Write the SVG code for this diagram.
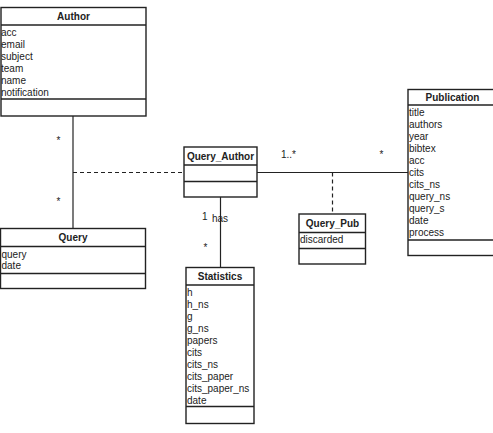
<svg xmlns="http://www.w3.org/2000/svg" width="493" height="433" viewBox="0 0 493 433">
<style>
.box{fill:#fff;stroke:#222;stroke-width:1.4}
.sep{stroke:#222;stroke-width:1.4}
.title{font-family:"Liberation Sans",Arial,sans-serif;font-size:10px;font-weight:bold;fill:#222;text-anchor:middle}
.attr{font-family:"Liberation Sans",Arial,sans-serif;font-size:10px;fill:#222}
.lbl{font-family:"Liberation Sans",Arial,sans-serif;font-size:10px;fill:#222}
.solid{stroke:#222;stroke-width:1.2;fill:none}
.dash{stroke:#222;stroke-width:1.2;fill:none;stroke-dasharray:4,3}
</style>
<rect width="493" height="433" fill="#fff"/>
<g id="connectors">
<line class="solid" x1="73" y1="116" x2="73" y2="228"/>
<line class="dash" x1="73" y1="172.5" x2="184" y2="172.5"/>
<line class="solid" x1="257" y1="172.5" x2="408" y2="172.5"/>
<line class="dash" x1="332.5" y1="172.5" x2="332.5" y2="214"/>
<line class="solid" x1="220.5" y1="197" x2="220.5" y2="267"/>
<text class="lbl" x="56.5" y="144">*</text>
<text class="lbl" x="56.5" y="205">*</text>
<text class="lbl" x="281" y="158">1..*</text>
<text class="lbl" x="379.5" y="158">*</text>
<text class="lbl" x="202" y="220">1</text>
<text class="lbl" x="212" y="222">has</text>
<text class="lbl" x="203.5" y="251">*</text>
</g>
<g id="Author">
<rect class="box" x="1" y="7.5" width="145" height="108.5"/>
<line class="sep" x1="1" y1="25" x2="146" y2="25"/>
<line class="sep" x1="1" y1="99" x2="146" y2="99"/>
<text class="title" x="73.5" y="19.5">Author</text>
<text class="attr" x="1" y="36">acc</text>
<text class="attr" x="1" y="48">email</text>
<text class="attr" x="1" y="60">subject</text>
<text class="attr" x="1" y="72">team</text>
<text class="attr" x="1" y="84">name</text>
<text class="attr" x="1" y="95.5">notification</text>
</g>
<g id="Query">
<rect class="box" x="0.5" y="228.5" width="145" height="60"/>
<line class="sep" x1="0.5" y1="246.5" x2="145.5" y2="246.5"/>
<line class="sep" x1="0.5" y1="273.5" x2="145.5" y2="273.5"/>
<text class="title" x="73" y="241">Query</text>
<text class="attr" x="1.5" y="257.5">query</text>
<text class="attr" x="1.5" y="269">date</text>
</g>
<g id="Query_Author">
<rect class="box" x="184" y="147" width="73" height="50"/>
<line class="sep" x1="184" y1="165" x2="257" y2="165"/>
<line class="sep" x1="184" y1="181.5" x2="257" y2="181.5"/>
<text class="title" x="220.5" y="160">Query_Author</text>
</g>
<g id="Query_Pub">
<rect class="box" x="299" y="214" width="66.5" height="50"/>
<line class="sep" x1="299" y1="232.5" x2="365.5" y2="232.5"/>
<line class="sep" x1="299" y1="248.5" x2="365.5" y2="248.5"/>
<text class="title" x="332.5" y="227">Query_Pub</text>
<text class="attr" x="300" y="243">discarded</text>
</g>
<g id="Statistics">
<rect class="box" x="186" y="267.5" width="68" height="156"/>
<line class="sep" x1="186" y1="285" x2="254" y2="285"/>
<line class="sep" x1="186" y1="406.5" x2="254" y2="406.5"/>
<text class="title" x="220" y="280">Statistics</text>
<text class="attr" x="187" y="296">h</text>
<text class="attr" x="187" y="308">h_ns</text>
<text class="attr" x="187" y="320">g</text>
<text class="attr" x="187" y="332">g_ns</text>
<text class="attr" x="187" y="344">papers</text>
<text class="attr" x="187" y="356">cits</text>
<text class="attr" x="187" y="368">cits_ns</text>
<text class="attr" x="187" y="380">cits_paper</text>
<text class="attr" x="187" y="392">cits_paper_ns</text>
<text class="attr" x="187" y="404">date</text>
</g>
<g id="Publication">
<rect class="box" x="408" y="89.5" width="90" height="166"/>
<line class="sep" x1="408" y1="105" x2="498" y2="105"/>
<line class="sep" x1="408" y1="240" x2="498" y2="240"/>
<text class="title" x="452.5" y="100.5">Publication</text>
<text class="attr" x="409" y="116">title</text>
<text class="attr" x="409" y="128">authors</text>
<text class="attr" x="409" y="140">year</text>
<text class="attr" x="409" y="152">bibtex</text>
<text class="attr" x="409" y="164">acc</text>
<text class="attr" x="409" y="176">cits</text>
<text class="attr" x="409" y="188">cits_ns</text>
<text class="attr" x="409" y="200">query_ns</text>
<text class="attr" x="409" y="212">query_s</text>
<text class="attr" x="409" y="224">date</text>
<text class="attr" x="409" y="236">process</text>
</g>
</svg>
